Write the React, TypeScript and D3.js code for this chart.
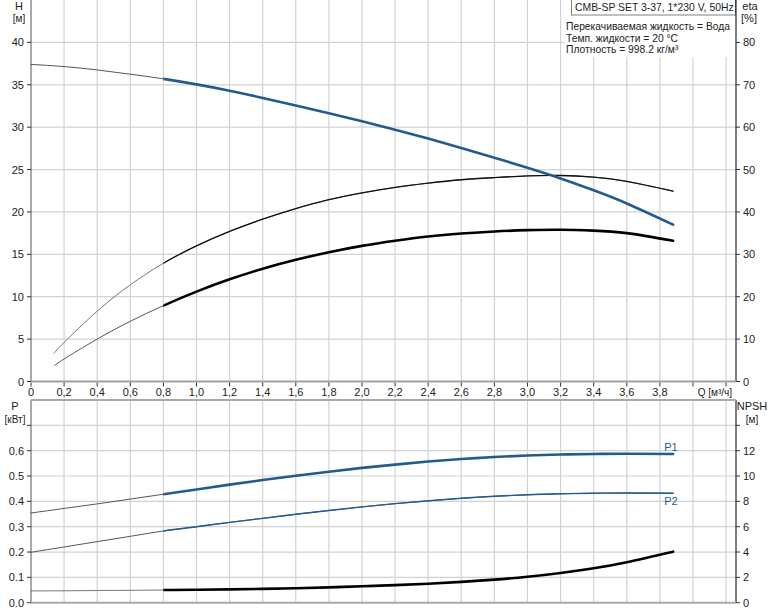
import * as d3 from "d3";

// flow points, m³/h
const Q = [0, 0.2, 0.4, 0.6, 0.8, 1.0, 1.2, 1.4, 1.6, 1.8, 2.0, 2.2, 2.4, 2.6, 2.8, 3.0, 3.2, 3.4, 3.6, 3.88];
const H = [37.4, 37.15, 36.75, 36.25, 35.7, 35.05, 34.3, 33.45, 32.55, 31.65, 30.7, 29.7, 28.65, 27.55, 26.4, 25.2, 23.95, 22.55, 21.0, 18.5];
const P1 = [0.354, 0.372, 0.39, 0.409, 0.428, 0.447, 0.466, 0.484, 0.501, 0.517, 0.532, 0.545, 0.557, 0.567, 0.575, 0.581, 0.585, 0.587, 0.588, 0.587];
const P2 = [0.199, 0.22, 0.241, 0.262, 0.283, 0.3, 0.317, 0.333, 0.349, 0.364, 0.378, 0.391, 0.402, 0.412, 0.42, 0.426, 0.43, 0.432, 0.433, 0.432];
const NPSH = [0.93, 0.94, 0.96, 0.98, 1.0, 1.02, 1.05, 1.09, 1.14, 1.21, 1.3, 1.39, 1.5, 1.64, 1.82, 2.05, 2.35, 2.72, 3.2, 4.03];

// efficiency curves start a bit later
const QE = [0.14, 0.2, 0.4, 0.6, 0.8, 1.0, 1.2, 1.4, 1.6, 1.8, 2.0, 2.2, 2.4, 2.6, 2.8, 3.0, 3.2, 3.4, 3.6, 3.88];
const ETA_PUMP = [6.7, 9.2, 16.6, 22.8, 27.9, 32.0, 35.4, 38.3, 40.8, 42.9, 44.5, 45.8, 46.8, 47.6, 48.1, 48.5, 48.6, 48.2, 47.2, 44.9];
const ETA_TOTAL = [3.7, 5.3, 10.0, 14.2, 17.9, 21.2, 24.1, 26.6, 28.7, 30.5, 32.0, 33.2, 34.2, 34.9, 35.4, 35.7, 35.8, 35.6, 35.0, 33.2];

const X_TICKS = d3.range(0, 4.21, 0.2);
const H_TICKS = [0, 5, 10, 15, 20, 25, 30, 35, 40];
const ETA_TICKS = [0, 10, 20, 30, 40, 50, 60, 70, 80];
const P_TICKS = [0, 0.1, 0.2, 0.3, 0.4, 0.5, 0.6, 0.7];
const NPSH_TICKS = [0, 2, 4, 6, 8, 10, 12, 14];

const INFO = [
  "Перекачиваемая жидкость = Вода",
  "Темп. жидкости = 20 °C",
  "Плотность = 998.2 кг/м³",
];

const W = 774;
const HGT = 611;
const LEFT = 31;
const RIGHT = 736;
const TOP_BOTTOM = 381.5;
const BOT_TOP = 400;
const BOT_BOTTOM = 602.7;

const BLUE = "#235b8c";
const THIN = "#4a5a6a";
const FONT = "'Liberation Sans', Arial, sans-serif";

const x = d3.scaleLinear().domain([0, 4.26]).range([LEFT, RIGHT]);
const yH = d3.scaleLinear().domain([0, 45]).range([TOP_BOTTOM, 0]);
const yEta = d3.scaleLinear().domain([0, 90]).range([TOP_BOTTOM, 0]);
const yP = d3.scaleLinear().domain([0, 0.8]).range([BOT_BOTTOM, BOT_TOP]);
const yN = d3.scaleLinear().domain([0, 16]).range([BOT_BOTTOM, BOT_TOP]);

type Pt = [number, number];

function pts(qs: number[], vs: number[]): Pt[] {
  return qs.map((q, i) => [q, vs[i]] as Pt);
}

function Curve({
  data,
  y,
  color,
  width,
  thinColor,
  thinWidth = 1,
}: {
  data: Pt[];
  y: d3.ScaleLinear<number, number>;
  color: string;
  width: number;
  thinColor: string;
  thinWidth?: number;
}) {
  // draw the whole curve thin, then the thick operating part on top
  const line = d3
    .line<Pt>()
    .x((d) => x(d[0]))
    .y((d) => y(d[1]))
    .curve(d3.curveNatural);
  const full = line(data) ?? "";
  const clipId = "c" + Math.round(y(data[0][1]) * 10) + "_" + data.length + color.slice(1) + width;
  return (
    <g fill="none" strokeLinecap="round">
      <clipPath id={clipId}>
        <rect x={x(0.8)} y={0} width={W} height={HGT} />
      </clipPath>
      <path d={full} stroke={thinColor} strokeWidth={thinWidth} />
      <path d={full} stroke={color} strokeWidth={width} clipPath={`url(#${clipId})`} />
    </g>
  );
}

function Grid({ top, bottom, yTicks }: { top: number; bottom: number; yTicks: number[] }) {
  return (
    <g stroke="#d2d2d2" strokeWidth={1.2}>
      {X_TICKS.filter((t) => t > 0.01).map((t) => (
        <line key={"v" + t} x1={x(t)} x2={x(t)} y1={top} y2={bottom} />
      ))}
      {yTicks.map((yy) => (
        <line key={"h" + yy} x1={LEFT} x2={RIGHT} y1={yy} y2={yy} />
      ))}
    </g>
  );
}

export default function App() {
  const fmtQ = (t: number) => (Math.abs(t) < 1e-9 ? "0" : t.toFixed(1).replace(".", ","));

  return (
    <div style={{ position: "absolute", left: 0, top: 0 }}>
      <svg width={W} height={HGT} style={{ display: "block", fontFamily: FONT }}>
        <rect width={W} height={HGT} fill="#fff" />

        {/* upper chart */}
        <Grid top={0} bottom={TOP_BOTTOM} yTicks={H_TICKS.filter((t) => t > 0).map((t) => yH(t))} />

        {/* info block covers grid */}
        <rect x={565} y={0} width={RIGHT - 565} height={57} fill="#fff" />
        <rect x={571.5} y={-1} width={164} height={16} fill="#fff" stroke="#808080" />
        <text x={575} y={11} fontSize={10.4} fill="#222">
          CMB-SP SET 3-37, 1*230 V, 50Hz
        </text>
        {INFO.map((s, i) => (
          <text key={s} x={566} y={30 + i * 11.7} fontSize={10.3} fill="#222">
            {s}
          </text>
        ))}

        <Curve data={pts(QE, ETA_PUMP)} y={yEta} color="#111" width={1.3} thinColor="#777" />
        <Curve data={pts(QE, ETA_TOTAL)} y={yEta} color="#000" width={2.6} thinColor="#555" />
        <Curve data={pts(Q, H)} y={yH} color={BLUE} width={2.6} thinColor={THIN} />

        {/* axes upper */}
        <line x1={LEFT} x2={LEFT} y1={0} y2={TOP_BOTTOM} stroke="#555" />
        <line x1={RIGHT} x2={RIGHT} y1={0} y2={TOP_BOTTOM} stroke="#000" />
        <line x1={LEFT} x2={RIGHT} y1={TOP_BOTTOM} y2={TOP_BOTTOM} stroke="#a0a0a0" strokeWidth={2} />
        {H_TICKS.map((t) => (
          <g key={"ht" + t}>
            <line x1={LEFT - 4} x2={LEFT} y1={yH(t)} y2={yH(t)} stroke="#333" />
            <text x={24} y={yH(t) + 4} fontSize={11} textAnchor="end" fill="#222">
              {t}
            </text>
          </g>
        ))}
        {ETA_TICKS.map((t) => (
          <g key={"et" + t}>
            <line x1={RIGHT} x2={RIGHT + 4} y1={yEta(t)} y2={yEta(t)} stroke="#333" />
            <text x={743} y={yEta(t) + 4} fontSize={11} fill="#222">
              {t}
            </text>
          </g>
        ))}
        <text x={19} y={10} fontSize={11} textAnchor="middle" fill="#222">H</text>
        <text x={19} y={22} fontSize={10} textAnchor="middle" fill="#222">[м]</text>
        <text x={750} y={10} fontSize={11} textAnchor="middle" fill="#222">eta</text>
        <text x={749} y={22} fontSize={11} textAnchor="middle" fill="#222">[%]</text>

        {/* x ticks */}
        {X_TICKS.map((t) => (
          <g key={"xt" + t}>
            <line x1={x(t)} x2={x(t)} y1={TOP_BOTTOM + 1} y2={TOP_BOTTOM + 5} stroke="#333" />
            {t < 3.9 && (
              <text x={x(t)} y={396} fontSize={11} textAnchor="middle" fill="#222">
                {fmtQ(t)}
              </text>
            )}
          </g>
        ))}
        <text x={732} y={396} fontSize={10} textAnchor="end" fill="#222">
          Q [м³/ч]
        </text>

        {/* lower chart */}
        <Grid
          top={BOT_TOP}
          bottom={BOT_BOTTOM}
          yTicks={P_TICKS.filter((t) => t > 0).map((t) => yP(t))}
        />
        <Curve data={pts(Q, NPSH)} y={yN} color="#000" width={2.6} thinColor="#777" />
        <Curve data={pts(Q, P2)} y={yP} color={BLUE} width={1.4} thinColor={THIN} />
        <Curve data={pts(Q, P1)} y={yP} color={BLUE} width={2.6} thinColor={THIN} />
        <text x={671} y={451} fontSize={11} textAnchor="middle" fill={BLUE}>P1</text>
        <text x={671} y={505} fontSize={11} textAnchor="middle" fill={BLUE}>P2</text>

        <line x1={LEFT} x2={LEFT} y1={BOT_TOP} y2={BOT_BOTTOM} stroke="#555" />
        <line x1={RIGHT} x2={RIGHT} y1={BOT_TOP} y2={BOT_BOTTOM} stroke="#000" />
        <line x1={LEFT} x2={RIGHT} y1={BOT_TOP} y2={BOT_TOP} stroke="#a8a8a8" strokeWidth={2} />
        <line x1={LEFT} x2={RIGHT} y1={BOT_BOTTOM} y2={BOT_BOTTOM} stroke="#a8a8a8" strokeWidth={2} />
        {P_TICKS.map((t) => (
          <g key={"pt" + t}>
            <line x1={LEFT - 4} x2={LEFT} y1={yP(t)} y2={yP(t)} stroke="#333" />
            {t < 0.65 && (
              <text x={24} y={yP(t) + 4} fontSize={11} textAnchor="end" fill="#222">
                {t.toFixed(1)}
              </text>
            )}
          </g>
        ))}
        {NPSH_TICKS.map((t) => (
          <g key={"nt" + t}>
            <line x1={RIGHT} x2={RIGHT + 4} y1={yN(t)} y2={yN(t)} stroke="#333" />
            {t < 13 && (
              <text x={743} y={yN(t) + 4} fontSize={11} fill="#222">
                {t}
              </text>
            )}
          </g>
        ))}
        <text x={15} y={410} fontSize={11} textAnchor="middle" fill="#222">P</text>
        <text x={15} y={423} fontSize={10} textAnchor="middle" fill="#222">[кВт]</text>
        <text x={752} y={410} fontSize={11} textAnchor="middle" fill="#222">NPSH</text>
        <text x={752} y={423} fontSize={10} textAnchor="middle" fill="#222">[м]</text>
      </svg>
    </div>
  );
}
